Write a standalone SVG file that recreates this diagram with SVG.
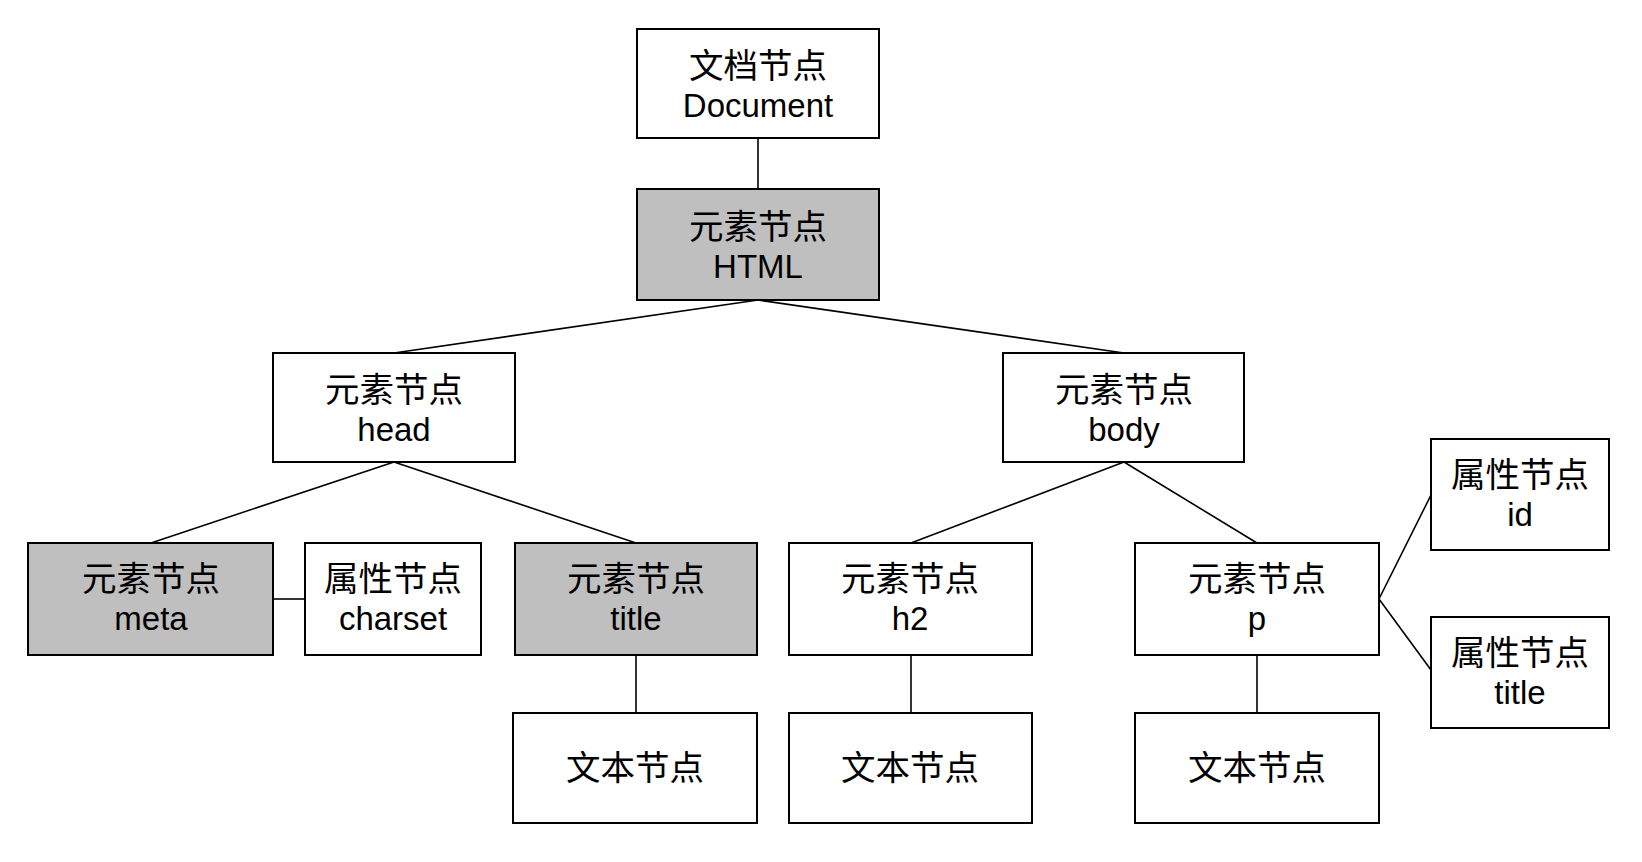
<svg xmlns="http://www.w3.org/2000/svg" width="1642" height="862" viewBox="0 0 1642 862">
<style>
.box{fill:#ffffff;stroke:#000000;stroke-width:2}
.gray{fill:#bfbfbf}
.cn{font-family:"Noto Sans CJK SC","Liberation Sans",sans-serif;font-size:34.5px;fill:#000000;text-anchor:middle}
.en{font-family:"Liberation Sans","Noto Sans CJK SC",sans-serif;font-size:33px;fill:#000000;text-anchor:middle}
.edge{stroke:#000000;stroke-width:1.6;fill:none}
</style>
<rect width="1642" height="862" fill="#ffffff"/>
<g id="connectors">
<line class="edge" x1="758" y1="138" x2="758" y2="189"/>
<line class="edge" x1="758" y1="300" x2="394" y2="353"/>
<line class="edge" x1="758" y1="300" x2="1124" y2="353"/>
<line class="edge" x1="394" y1="462" x2="151" y2="543"/>
<line class="edge" x1="394" y1="462" x2="636" y2="543"/>
<line class="edge" x1="273" y1="599" x2="305" y2="599"/>
<line class="edge" x1="636" y1="655" x2="636" y2="713"/>
<line class="edge" x1="1124" y1="462" x2="911" y2="543"/>
<line class="edge" x1="1124" y1="462" x2="1257" y2="543"/>
<line class="edge" x1="911" y1="655" x2="911" y2="713"/>
<line class="edge" x1="1257" y1="655" x2="1257" y2="713"/>
<line class="edge" x1="1379" y1="599" x2="1431" y2="495"/>
<line class="edge" x1="1379" y1="599" x2="1431" y2="670"/>
</g>
<g id="doc">
<rect class="box" x="637" y="29" width="242" height="109"/>
<text class="cn" x="758" y="78">文档节点</text>
<text class="en" x="758" y="117">Document</text>
</g>
<g id="html">
<rect class="box gray" x="637" y="189" width="242" height="111"/>
<text class="cn" x="758" y="239">元素节点</text>
<text class="en" x="758" y="278">HTML</text>
</g>
<g id="head">
<rect class="box" x="273" y="353" width="242" height="109"/>
<text class="cn" x="394" y="402">元素节点</text>
<text class="en" x="394" y="441">head</text>
</g>
<g id="body">
<rect class="box" x="1003" y="353" width="241" height="109"/>
<text class="cn" x="1124" y="402">元素节点</text>
<text class="en" x="1124" y="441">body</text>
</g>
<g id="meta">
<rect class="box gray" x="28" y="543" width="245" height="112"/>
<text class="cn" x="151" y="591">元素节点</text>
<text class="en" x="151" y="630">meta</text>
</g>
<g id="charset">
<rect class="box" x="305" y="543" width="176" height="112"/>
<text class="cn" x="393" y="591">属性节点</text>
<text class="en" x="393" y="630">charset</text>
</g>
<g id="title">
<rect class="box gray" x="515" y="543" width="242" height="112"/>
<text class="cn" x="636" y="591">元素节点</text>
<text class="en" x="636" y="630">title</text>
</g>
<g id="h2">
<rect class="box" x="789" y="543" width="243" height="112"/>
<text class="cn" x="910" y="591">元素节点</text>
<text class="en" x="910" y="630">h2</text>
</g>
<g id="p">
<rect class="box" x="1135" y="543" width="244" height="112"/>
<text class="cn" x="1257" y="591">元素节点</text>
<text class="en" x="1257" y="630">p</text>
</g>
<g id="attr-id">
<rect class="box" x="1431" y="439" width="178" height="111"/>
<text class="cn" x="1520" y="487">属性节点</text>
<text class="en" x="1520" y="526">id</text>
</g>
<g id="attr-title">
<rect class="box" x="1431" y="617" width="178" height="111"/>
<text class="cn" x="1520" y="665">属性节点</text>
<text class="en" x="1520" y="704">title</text>
</g>
<g id="text-title">
<rect class="box" x="513" y="713" width="244" height="110"/>
<text class="cn" x="635" y="780">文本节点</text>
</g>
<g id="text-h2">
<rect class="box" x="789" y="713" width="243" height="110"/>
<text class="cn" x="910" y="780">文本节点</text>
</g>
<g id="text-p">
<rect class="box" x="1135" y="713" width="244" height="110"/>
<text class="cn" x="1257" y="780">文本节点</text>
</g>
</svg>
